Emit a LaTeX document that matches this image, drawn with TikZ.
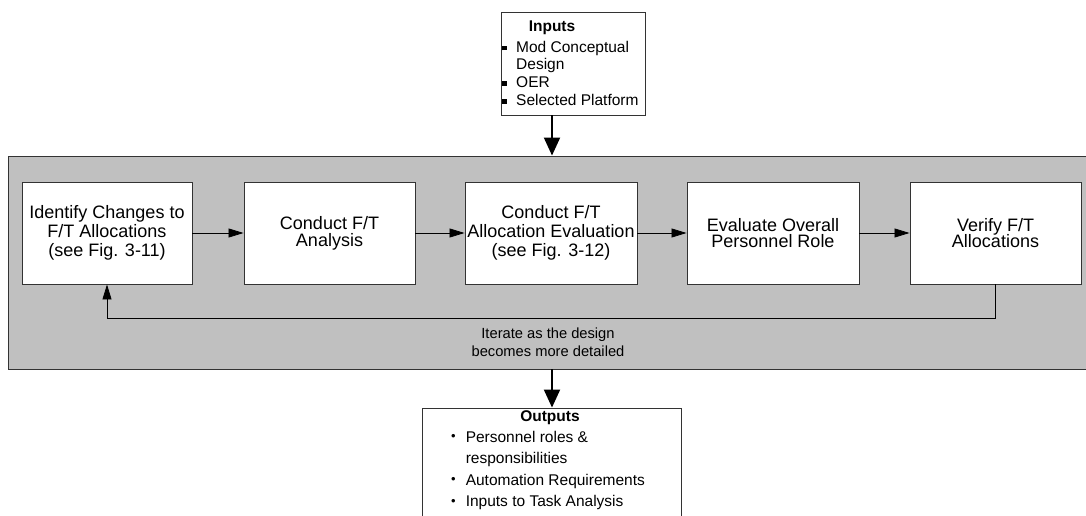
\documentclass[tikz,border=0pt]{standalone}
\usepackage{fontspec}
\setmainfont{Liberation Sans}
\usetikzlibrary{arrows.meta}
\definecolor{bandgray}{HTML}{C0C0C0}
\definecolor{edgegray}{HTML}{333333}
\newcommand{\sqbullet}{\rule[1.8pt]{4.5pt}{4.5pt}}
\newcommand{\dotbullet}{\raisebox{1.6pt}{\fontsize{13}{13}\selectfont\char"2022}}
\begin{document}
\begin{tikzpicture}[x=1pt,y=-1pt,
  frame/.style={draw=edgegray,line width=0.9pt},
  stepbox/.style={frame,fill=white,minimum width=171pt,minimum height=102pt,
    align=center,inner sep=0pt},
  big/.style={font=\fontsize{18}{19}\selectfont},
  tight/.style={font=\fontsize{18}{16.8}\selectfont},
  flow/.style={draw=black,line width=0.8pt,-{Triangle[length=15pt,width=9pt]}},
  bigflow/.style={draw=black,line width=2pt,-{Triangle[length=18pt,width=16pt]}},
  plain/.style={inner sep=0pt,font=\fontsize{15.5}{17.7}\selectfont},
]
\useasboundingbox (0,0) rectangle (1086,516);
\clip (0,0) rectangle (1086,516);
\fill[white] (0,0) rectangle (1086,516);

% grey band holding the iterative process
\node[frame,fill=bandgray,minimum width=1084pt,minimum height=213pt,inner sep=0pt] (band) at (550,262.5) {};

% process steps
\node[stepbox,big,minimum width=170pt] (s1) at (107,233) {Identify Changes to\\F/T Allocations\\(see Fig. 3-11)};
\node[stepbox,tight] (s2) at (329.5,233) {Conduct F/T\\Analysis};
\node[stepbox,big,minimum width=172pt] (s3) at (551,233) {Conduct F/T\\Allocation Evaluation\\(see Fig. 3-12)};
\node[stepbox,tight,minimum width=172pt] (s4) at (773,233) {Evaluate Overall\\Personnel Role};
\node[stepbox,tight] (s5) at (995.5,233) {Verify F/T\\Allocations};

\draw[flow] (s1) -- (s2);
\draw[flow] (s2) -- (s3);
\draw[flow] (s3) -- (s4);
\draw[flow] (s4) -- (s5);

% iteration loop
\draw[flow] (s5.south) -- ++(0,34) -| (s1.south);
\node[inner sep=0pt,align=center,font=\fontsize{14.7}{18}\selectfont] (iter) at (548,342) {Iterate as the design\\becomes more detailed};

% inputs
\coordinate (axis) at (552,0);
\node[frame,fill=white,minimum width=144pt,minimum height=103pt,inner sep=0pt] (inputs) at (573,63.5) {};
\node[plain,anchor=base,font=\bfseries\fontsize{15.5}{17.7}\selectfont] (intitle) at (552,31.7) {Inputs};
\node[plain,anchor=base west] (inlist) at (502,52.3) {%
  \begin{tabular}[t]{@{}l@{\hspace{9.5pt}}l@{}}
  \sqbullet & Mod Conceptual\\
            & Design\\
  \sqbullet & OER\\
  \sqbullet & Selected Platform
  \end{tabular}};
\draw[bigflow] (inputs.south -| axis) -- (band.north -| axis);

% outputs
\node[frame,fill=white,minimum width=259pt,minimum height=122pt,inner sep=0pt] (outputs) at (551.5,469) {};
\node[plain,anchor=base,font=\bfseries\fontsize{15.5}{17.7}\selectfont] (outtitle) at (550,421.7) {Outputs};
\node[plain,anchor=base west,font=\fontsize{15.5}{21.6}\selectfont] (outlist) at (451,442) {%
  \begin{tabular}[t]{@{}l@{\hspace{10pt}}l@{}}
  \dotbullet & Personnel roles \&\\
             & responsibilities\\
  \dotbullet & Automation Requirements\\
  \dotbullet & Inputs to Task Analysis
  \end{tabular}};
\draw[bigflow] (band.south -| axis) -- (outputs.north -| axis);
\end{tikzpicture}
\end{document}
